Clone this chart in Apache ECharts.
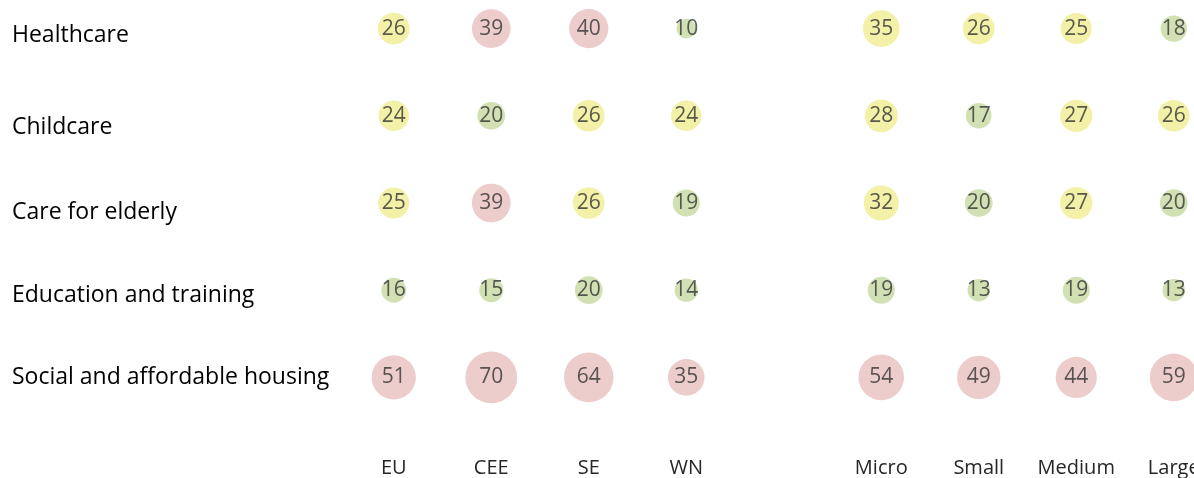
<!DOCTYPE html>
<html>
<head>
<meta charset="utf-8">
<script src="https://cdn.jsdelivr.net/npm/echarts@6/dist/echarts.min.js"></script>
<style>
  html, body { margin: 0; padding: 0; background: #fff; }
  #chart { width: 1194px; height: 478px; }
</style>
</head>
<body>
<div id="chart"></div>
<script>
// columns: regions, a blank spacer, then firm sizes
const columns = ['EU', 'CEE', 'SE', 'WN', '', 'Micro', 'Small', 'Medium', 'Large'];
const rows = ['Healthcare', 'Childcare', 'Care for elderly', 'Education and training', 'Social and affordable housing'];

// values per row, in the order EU, CEE, SE, WN, Micro, Small, Medium, Large
const healthcare = [26, 39, 40, 10, 35, 26, 25, 18];
const childcare = [24, 20, 26, 24, 28, 17, 27, 26];
const elderly = [25, 39, 26, 19, 32, 20, 27, 20];
const education = [16, 15, 20, 14, 19, 13, 19, 13];
const housing = [51, 70, 64, 35, 54, 49, 44, 59];

// colour class per cell: g = green, y = yellow, p = pink
const healthcareCls = ['y', 'p', 'p', 'g', 'y', 'y', 'y', 'g'];
const childcareCls = ['y', 'g', 'y', 'y', 'y', 'g', 'y', 'y'];
const elderlyCls = ['y', 'p', 'y', 'g', 'y', 'g', 'y', 'g'];
const educationCls = ['g', 'g', 'g', 'g', 'g', 'g', 'g', 'g'];
const housingCls = ['p', 'p', 'p', 'p', 'p', 'p', 'p', 'p'];

const colorOf = { g: '#c6d9a0', y: '#efee91', p: '#e9bfbf' };
const colIdx = [0, 1, 2, 3, 5, 6, 7, 8]; // skip spacer column

const rowValues = [healthcare, childcare, elderly, education, housing];
const rowCls = [healthcareCls, childcareCls, elderlyCls, educationCls, housingCls];

const points = [];
rowValues.forEach((vals, r) => {
  vals.forEach((v, i) => {
    points.push({
      value: [colIdx[i], r, v],
      itemStyle: { color: colorOf[rowCls[r][i]] }
    });
  });
});

// row labels sit a bit lower than the bubbles in the original (padding top = 2x shift)
const labelPadTop = [14, 24, 18, 10, 0];
const rich = {};
labelPadTop.forEach((p, i) => {
  rich['r' + i] = { padding: [p, 0, 0, 0], fontSize: 23, color: '#000', fontFamily: 'Open Sans' };
});

const myChart = echarts.init(document.getElementById('chart'));
const option = {
  animation: false,
  textStyle: { fontFamily: 'Open Sans' },
  grid: {
    left: 345, top: -15, width: 877.5, height: 436,
    outerBoundsMode: 'none', containLabel: false
  },
  xAxis: {
    type: 'category',
    data: columns,
    axisLine: { show: false },
    axisTick: { show: false },
    splitLine: { show: false },
    axisLabel: { interval: 0, margin: 37, fontSize: 20, color: '#262626', fontFamily: 'Open Sans' }
  },
  yAxis: {
    type: 'category',
    data: rows,
    inverse: true,
    axisLine: { show: false },
    axisTick: { show: false },
    splitLine: { show: false },
    axisLabel: {
      interval: 0,
      align: 'left',
      margin: 333,
      fontSize: 23,
      color: '#000',
      fontFamily: 'Open Sans',
      formatter: (name, idx) => '{r' + idx + '|' + name + '}',
      rich: rich
    }
  },
  series: [{
    type: 'scatter',
    data: points,
    symbolSize: (val) => 6.2 * Math.sqrt(val[2]),
    label: {
      show: true,
      position: 'inside',
      formatter: (p) => p.value[2],
      fontSize: 21,
      color: '#333',
      fontFamily: 'Open Sans'
    }
  }]
};
myChart.setOption(option);
</script>
</body>
</html>
